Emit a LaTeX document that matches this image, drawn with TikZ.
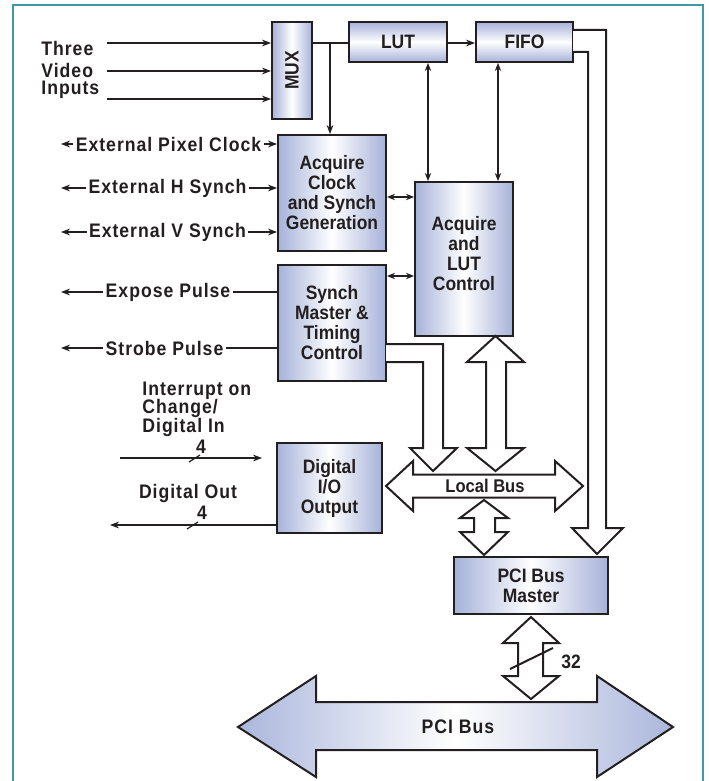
\documentclass[tikz,border=0pt]{standalone}
\usepackage{fontspec}
\usepackage{graphicx}
\setmainfont{Liberation Sans}[FakeStretch=0.9]
\newfontfamily\lblfont{Liberation Sans}[FakeStretch=0.9,LetterSpace=5]
\usetikzlibrary{arrows.meta}
\definecolor{boxblue}{HTML}{A6B2D9}
\definecolor{busblue}{HTML}{AAB6DB}
\definecolor{frameteal}{HTML}{3E9BA6}
\definecolor{ink}{HTML}{231F20}
\begin{document}
\begin{tikzpicture}[x=0.5pt,y=-0.5pt,
  box/.style={draw=ink, line width=1pt, inner sep=0pt, align=center,
    left color=boxblue, right color=boxblue, middle color=white,
    font=\bfseries\fontsize{9.7}{10}\selectfont, text=ink},
  vbox/.style={draw=ink, line width=1pt, inner sep=0pt, align=center,
    top color=boxblue, bottom color=boxblue, middle color=white,
    font=\bfseries\fontsize{9.7}{10}\selectfont, text=ink},
  lbl/.style={inner sep=1pt, font=\lblfont\bfseries\fontsize{9.8}{9.3}\selectfont, text=ink},
  arr/.style={-{Stealth[length=4.5pt,width=3.4pt]}, line width=0.6pt, draw=ink},
  darr/.style={{Stealth[length=4pt,width=3.2pt]}-{Stealth[length=4pt,width=3.2pt]}, line width=0.6pt, draw=ink},
  plain/.style={line width=0.6pt, draw=ink},
  hollow/.style={draw=ink, line width=1pt, fill=white, line join=miter}]
\useasboundingbox (0,0) rectangle (708,781);

% frame
\draw[frameteal, line width=1pt] (13,781) -- (13,5) -- (703,5) -- (703,781);

% boxes
\node[box, minimum width=20pt, minimum height=48.5pt] (mux) at (292,70.5) {\rotatebox{90}{MUX}};
\node[vbox, minimum width=49pt, minimum height=20pt] (lut) at (398,42) {LUT};
\node[vbox, minimum width=48.5pt, minimum height=20pt] (fifo) at (524.5,42) {FIFO};
\node[box, minimum width=54pt, minimum height=58pt] (acq) at (332,193) {Acquire\\Clock\\and Synch\\Generation};
\node[box, minimum width=49pt, minimum height=77pt] (acqlut) at (464,259) {Acquire\\and\\LUT\\Control\\[-4pt]\mbox{}};
\node[box, minimum width=54pt, minimum height=58pt] (synch) at (332,323) {Synch\\Master \&\\Timing\\Control};
\node[box, minimum width=52.5pt, minimum height=45pt] (dio) at (329.5,488) {Digital\\I/O\\Output};
\node[box, minimum width=77pt, minimum height=28.5pt] (pcim) at (531,585.5) {PCI Bus\\Master};

% video inputs
\node[lbl, anchor=west] (three) at (39,48) {Three};
\node[lbl, anchor=west] (video) at (39,70) {Video};
\node[lbl, anchor=west] (inputs) at (39,90) {Inputs};
\coordinate (in1) at (107,43);
\coordinate (in2) at (107,71);
\coordinate (in3) at (107,99);
\draw[arr] (in1) -- (mux.west |- in1);
\draw[arr] (in2) -- (mux.west |- in2);
\draw[arr] (in3) -- (mux.west |- in3);

% mux -> lut, branch to acquire clock
\coordinate (br) at (330,43);
\draw[plain] (mux.east |- br) -- (lut.west |- br);
\draw[arr] (br) -- (br |- acq.north);
\draw[arr] (lut.east |- br) -- (fifo.west |- br);

% lut/fifo <-> acquire and lut control
\coordinate (lx) at (428,0);
\coordinate (fx) at (498,0);
\draw[darr] (lx |- lut.south) -- (lx |- acqlut.north);
\draw[darr] (fx |- fifo.south) -- (fx |- acqlut.north);

% box to box short links
\draw[darr] (acq.east |- 0,197) -- (acqlut.west |- 0,197);
\draw[darr] (synch.east |- 0,276) -- (acqlut.west |- 0,276);

% external signals
\node[lbl] (pix) at (168.5,144) {External Pixel Clock};
\node[lbl] (hs) at (167.5,188) {External H Synch};
\node[lbl] (vs) at (167.5,232) {External V Synch};
\coordinate (pixL) at (61,144);
\coordinate (hsL) at (61,188);
\coordinate (vsL) at (61,232);
\draw[arr] (pix.west) -- (pixL);
\draw[arr] (pix.east) -- (acq.west |- pix.east);
\draw[arr] (hs.west) -- (hsL);
\draw[arr] (hs.east) -- (acq.west |- hs.east);
\draw[arr] (vs.west) -- (vsL);
\draw[arr] (vs.east) -- (acq.west |- vs.east);

\node[lbl] (exp) at (168,292) {Expose Pulse};
\node[lbl] (stb) at (164.5,348) {Strobe Pulse};
\coordinate (expL) at (61,292);
\coordinate (stbL) at (61,348);
\draw[arr] (exp.west) -- (expL);
\draw[plain] (synch.west |- exp.east) -- (exp.east);
\draw[arr] (stb.west) -- (stbL);
\draw[plain] (synch.west |- stb.east) -- (stb.east);

% digital in / out
\node[lbl, anchor=west, align=left] (intr) at (140,409) {Interrupt on\\Change/\\Digital In};
\coordinate (dinA) at (120,458);
\coordinate (dinB) at (262,458);
\draw[arr] (dinA) -- (dinB);
\draw[plain] (189,462) -- (200,455);
\node[lbl] (din4) at (201,447) {4};
\node[lbl] (dout) at (188,493) {Digital Out};
\coordinate (doutL) at (110,525);
\draw[arr] (dio.west |- doutL) -- (doutL);
\draw[plain] (187,529) -- (198,522);
\node[lbl] (dout4) at (202,513) {4};

% hollow arrows
% FIFO to PCI bus master
\draw[hollow] (573,30) -- (606,30) -- (606,528) -- (623,528) -- (597,554) -- (572,528) -- (588,528) -- (588,52) -- (573,52);
% synch master to local bus
\draw[hollow] (386,344) -- (443,344) -- (443,448) -- (457,448) -- (433,471) -- (410,448) -- (423,448) -- (423,362) -- (386,362);
% acquire/LUT control <-> local bus
\draw[hollow] (495.5,336) -- (524,362) -- (506,362) -- (506,448) -- (524,448) -- (495.5,471) -- (467,448) -- (486,448) -- (486,362) -- (467,362) -- cycle;
% local bus
\draw[hollow] (386,486) -- (413,461) -- (413,474.5) -- (555,474.5) -- (555,461) -- (583,486) -- (555,511) -- (555,497.5) -- (413,497.5) -- (413,511) -- cycle;
\node[font=\bfseries\fontsize{9.2}{9}\selectfont, text=ink, inner sep=0pt] (lbus) at (485,486) {Local Bus};
% local bus <-> PCI bus master
\draw[hollow] (484,500) -- (508,518) -- (495,518) -- (495,532) -- (508,532) -- (484,555) -- (460,532) -- (474,532) -- (474,518) -- (460,518) -- cycle;
% PCI bus master <-> PCI bus
\draw[hollow] (531,617) -- (559,643) -- (543,643) -- (543,676) -- (559,676) -- (531,699) -- (503,676) -- (518,676) -- (518,643) -- (503,643) -- cycle;
\draw[line width=1pt, draw=ink] (510,669) -- (553,648);
\node[font=\bfseries\fontsize{9.7}{9}\selectfont, text=ink, anchor=west, inner sep=0pt] (n32) at (561,662) {32};

% PCI bus
\draw[draw=ink, line width=1pt, line join=miter, left color=busblue, right color=busblue, middle color=white]
  (238,727) -- (316,676) -- (316,702) -- (597,702) -- (597,676) -- (673,727) -- (597,777) -- (597,750) -- (316,750) -- (316,777) -- cycle;
\node[lbl, inner sep=0pt] (pcibus) at (458,727) {PCI Bus};
\end{tikzpicture}
\end{document}
